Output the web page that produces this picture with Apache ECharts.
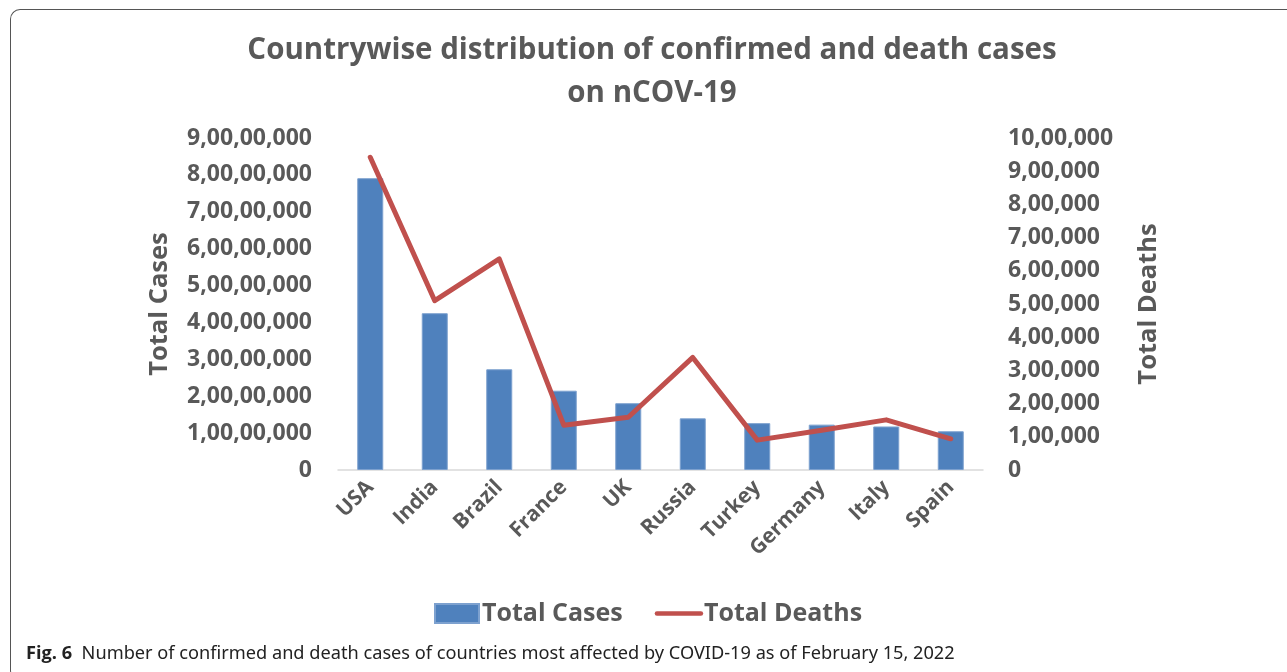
<!DOCTYPE html>
<html><head><meta charset="utf-8">
<script src="https://cdn.jsdelivr.net/npm/echarts@6/dist/echarts.min.js"></script>
<style>
html,body{margin:0;padding:0;background:#fff;overflow:hidden;}
#frame{position:absolute;left:10px;top:9px;width:1300px;height:672px;border-left:1.5px solid #555;border-top:1.5px solid #555;border-bottom:1.5px solid #555;border-radius:10px 0 0 10px;box-sizing:border-box;}
#chart{position:absolute;left:0;top:0;width:1287px;height:672px;}
</style></head>
<body>
<div id="frame"></div>
<div id="chart"></div>
<script>
const categories = ['USA','India','Brazil','France','UK','Russia','Turkey','Germany','Italy','Spain'];
const totalCases = [79100000, 42500000, 27300000, 21500000, 18100000, 14000000, 12700000, 12300000, 11800000, 10500000];
const totalDeaths = [942000, 510000, 636000, 135000, 159000, 339000, 90000, 120000, 151000, 94000];
const leftTicks = {min: 0, max: 90000000, interval: 10000000};
const rightTicks = {min: 0, max: 1000000, interval: 100000};

function indianFormat(v){
  const s = String(Math.round(v));
  if (s.length <= 3) return s;
  const last3 = s.slice(-3);
  let rest = s.slice(0, -3);
  const parts = [];
  while (rest.length > 2) { parts.unshift(rest.slice(-2)); rest = rest.slice(0, -2); }
  if (rest.length) parts.unshift(rest);
  return parts.join(',') + ',' + last3;
}

const grey = '#595959';
const font = '"Open Sans", sans-serif';
const chart = echarts.init(document.getElementById('chart'), null, {renderer:'canvas'});
chart.setOption({
  animation: false,
  backgroundColor: 'transparent',
  title: {
    text: 'Countrywise distribution of confirmed and death cases\non nCOV-19',
    left: 647, textAlign: 'center', top: 24,
    textStyle: {fontFamily: font, fontWeight: 'bold', fontSize: 29.5, color: grey, lineHeight: 43}
  },
  legend: {
    data: [{name: 'Total Cases', icon: 'rect'}, {name: 'Total Deaths', itemStyle: {opacity: 0}, lineStyle: {width: 4.5, color: '#C0504D'}}],
    top: 601, left: 434, padding: 0,
    itemWidth: 44, itemHeight: 19, itemGap: 32,
    textStyle: {fontFamily: font, fontWeight: 'bold', fontSize: 25, color: grey, padding: [0,0,0,-2]}
  },
  grid: {left: 338, right: 304, top: 138, bottom: 202, containLabel: false},
  xAxis: {
    type: 'category', data: categories,
    axisLine: {lineStyle: {color: '#D9D9D9', width: 1.5}},
    axisTick: {show: false},
    axisLabel: {rotate: 45, margin: 14, fontFamily: font, fontWeight: 'bold', fontSize: 21, color: grey}
  },
  yAxis: [{
    type: 'value', min: leftTicks.min, max: leftTicks.max, interval: leftTicks.interval,
    name: 'Total Cases', nameLocation: 'middle', nameGap: 165, nameRotate: 90,
    nameTextStyle: {fontFamily: font, fontWeight: 'bold', fontSize: 25.5, color: grey},
    splitLine: {show: false}, axisLine: {show: false}, axisTick: {show: false},
    axisLabel: {margin: 26, fontFamily: font, fontWeight: 'bold', fontSize: 23, color: grey, formatter: indianFormat}
  }, {
    type: 'value', min: rightTicks.min, max: rightTicks.max, interval: rightTicks.interval,
    name: 'Total Deaths', nameLocation: 'middle', nameGap: 153, nameRotate: 90,
    nameTextStyle: {fontFamily: font, fontWeight: 'bold', fontSize: 25.5, color: grey},
    splitLine: {show: false}, axisLine: {show: false}, axisTick: {show: false},
    axisLabel: {margin: 25, fontFamily: font, fontWeight: 'bold', fontSize: 23, color: grey, formatter: indianFormat}
  }],
  series: [{
    name: 'Total Cases', type: 'bar', data: totalCases, barWidth: 26,
    itemStyle: {color: '#4F81BD', borderColor: '#7DA1CF', borderWidth: 1}
  }, {
    name: 'Total Deaths', type: 'line', yAxisIndex: 1, data: totalDeaths,
    symbol: 'none', lineStyle: {color: '#C0504D', width: 5, join: 'round', cap: 'round'},
    itemStyle: {color: '#C0504D'}
  }],
  graphic: [{
    type: 'text', left: 26, top: 645,
    style: {
      text: '{b|Fig. 6}  Number of confirmed and death cases of countries most affected by COVID-19 as of February 15, 2022',
      rich: {b: {fontFamily: font, fontWeight: 'bold', fontSize: 18.2, fill: '#222'}},
      fontFamily: '"Noto Sans", sans-serif', fontSize: 18.2, fill: '#222'
    }
  }]
});
</script>
</body></html>
